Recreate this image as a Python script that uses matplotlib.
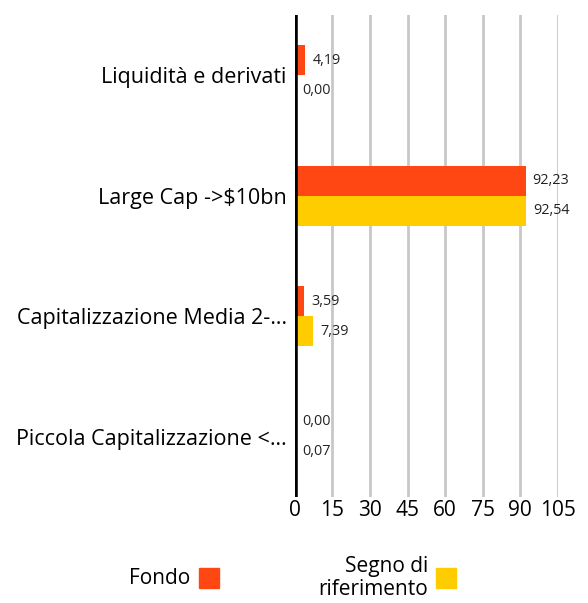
import numpy as np
import matplotlib
matplotlib.use('Agg')
import matplotlib.pyplot as plt
from matplotlib.patches import Rectangle

plt.rcParams['font.family'] = ['Open Sans', 'DejaVu Sans']

# Data
categories = ['Liquidità e derivati', 'Large Cap ->$10bn',
              'Capitalizzazione Media 2-…', 'Piccola Capitalizzazione <…']
fondo = [4.19, 92.23, 3.59, 0.00]
benchmark = [0.00, 92.54, 7.39, 0.07]
ticks = [0, 15, 30, 45, 60, 75, 90, 105]

orange = '#FF4713'
yellow = '#FFCC00'

fig = plt.figure(figsize=(5.88, 6.03), dpi=100)
ax = fig.add_axes([295 / 588, 1 - 497 / 603, 262.5 / 588, 482 / 603])

y = np.arange(len(categories))
h = 0.25
ax.barh(y - h / 2, fondo, height=h, color=orange, zorder=3)
ax.barh(y + h / 2, benchmark, height=h, color=yellow, zorder=3)

# Value labels
for yi, v in zip(y - h / 2, fondo):
    ax.annotate(f'{v:.2f}'.replace('.', ','), (v, yi), xytext=(7, 0),
                textcoords='offset pixels', va='center', fontsize=10.4, color='#222222')
for yi, v in zip(y + h / 2, benchmark):
    ax.annotate(f'{v:.2f}'.replace('.', ','), (v, yi), xytext=(7, 0),
                textcoords='offset pixels', va='center', fontsize=10.4, color='#222222')

ax.set_ylim(len(categories) - 0.5, -0.5)
ax.set_xlim(0, 105)
ax.set_xticks(ticks)
ax.set_xticklabels([str(t) for t in ticks], fontsize=15)
ax.set_yticks(y)
ax.set_yticklabels(categories, fontsize=15.5)
ax.tick_params(axis='y', length=0, pad=6)
ax.tick_params(axis='x', length=0, pad=2)

for t in ticks[1:]:
    ax.axvline(t, color='#c8c8c8', lw=2, zorder=1)
ax.axvline(0, color='black', lw=4, zorder=4)

for s in ax.spines.values():
    s.set_visible(False)

# Legend
fig.text(190 / 588, 1 - 578 / 603, 'Fondo', ha='right', va='center', fontsize=15)
fig.patches.append(Rectangle((199 / 588, 1 - 588 / 603), 20 / 588, 20 / 603,
                             transform=fig.transFigure, color=orange))
fig.text(428 / 588, 1 - 578 / 603, 'Segno di\nriferimento', ha='right', va='center',
         fontsize=15, multialignment='right', linespacing=1.1)
fig.patches.append(Rectangle((436 / 588, 1 - 588 / 603), 20 / 588, 20 / 603,
                             transform=fig.transFigure, color=yellow))

fig.savefig('out.png', dpi=100)
